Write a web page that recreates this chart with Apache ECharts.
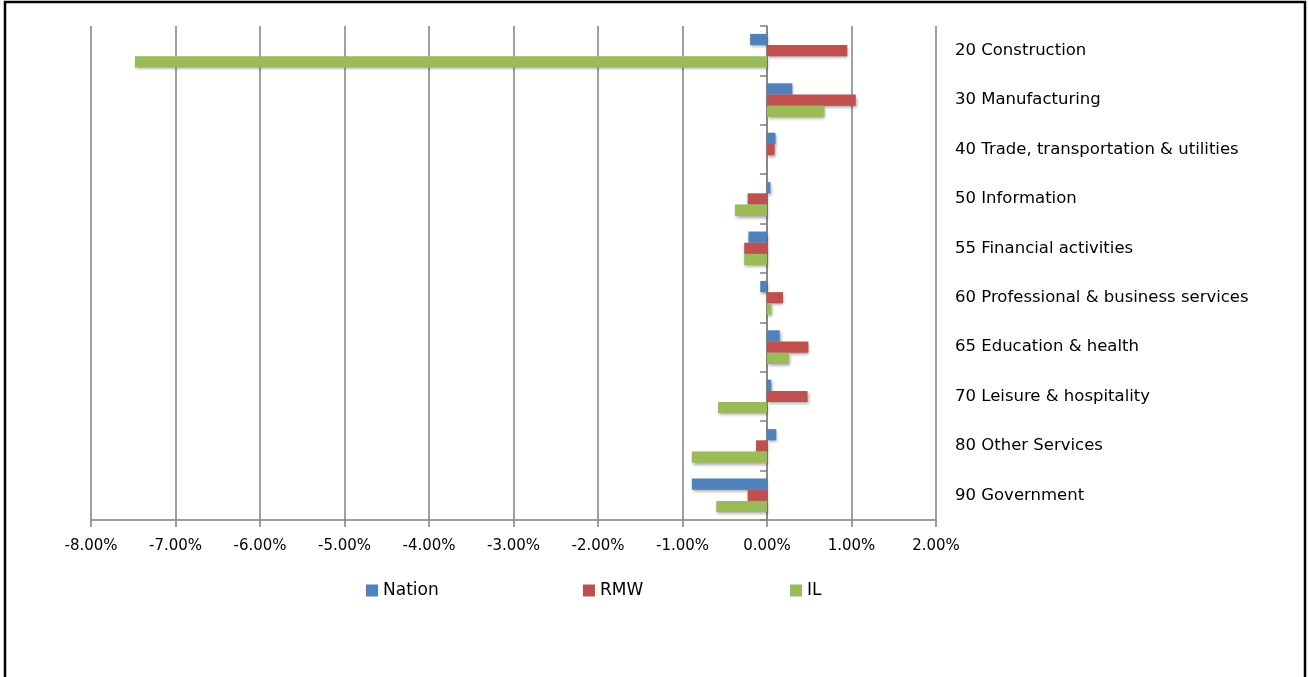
<!DOCTYPE html>
<html>
<head>
<meta charset="utf-8">
<script src="https://cdn.jsdelivr.net/npm/echarts@6/dist/echarts.min.js"></script>
<style>html,body{margin:0;padding:0;background:#fff;}#c{width:1309px;height:677px;}</style>
</head>
<body>
<div id="c"></div>
<script>
var categories = ['20 Construction','30 Manufacturing','40 Trade, transportation & utilities','50 Information','55 Financial activities','60 Professional & business services','65 Education & health','70 Leisure & hospitality','80 Other Services','90 Government'];
var nation = [-0.20, 0.30, 0.10, 0.04, -0.22, -0.08, 0.15, 0.05, 0.11, -0.89];
var rmw = [0.95, 1.05, 0.09, -0.23, -0.27, 0.19, 0.49, 0.48, -0.13, -0.23];
var il = [-7.48, 0.68, 0.00, -0.38, -0.27, 0.05, 0.26, -0.58, -0.89, -0.60];
var xTicks = {min: -8, max: 2, interval: 1};

var FONT = 'DejaVu Sans';
var chart = echarts.init(document.getElementById('c'));
var shadow = {shadowColor:'rgba(0,0,0,0.35)', shadowBlur:3, shadowOffsetX:1, shadowOffsetY:2};
function ser(name, data, color){
  return {name:name, type:'bar', data:data, barGap:'0%', barCategoryGap:'32%',
    itemStyle: Object.assign({color:color}, shadow)};
}
function leg(name, left){
  return {data:[name], left:left, top:582, padding:0, itemWidth:12, itemHeight:12,
    textStyle:{fontFamily:FONT,fontSize:17,color:'#000'}, icon:'rect'};
}
chart.setOption({
  animation:false,
  backgroundColor:'#fff',
  textStyle:{fontFamily:FONT},
  grid:{left:91, right:373, top:26, bottom:157, containLabel:false},
  legend:[leg('Nation',366), leg('RMW',583), leg('IL',790)],
  xAxis:{type:'value', min:xTicks.min, max:xTicks.max, interval:xTicks.interval,
    axisLine:{show:true, lineStyle:{color:'#808080', width:1.5}},
    axisTick:{show:true, length:7, lineStyle:{color:'#808080', width:1.5}},
    axisLabel:{color:'#000', fontSize:15, fontFamily:FONT, margin:19, formatter:function(v){return v.toFixed(2)+'%';}},
    splitLine:{show:true, lineStyle:{color:'#808080', width:1.5}}
  },
  yAxis:[
    {type:'category', data:categories, inverse:true,
      axisLine:{show:true, onZero:true, lineStyle:{color:'#808080', width:1.5}},
      axisTick:{show:true, length:7, lineStyle:{color:'#808080', width:1.5}},
      axisLabel:{show:false}},
    {type:'category', data:categories, inverse:true, position:'right',
      axisLine:{show:false, onZero:false}, axisTick:{show:false},
      axisLabel:{show:true, margin:19, color:'#000', fontSize:16.5, fontFamily:FONT, align:'left'}}
  ],
  series:[ser('Nation', nation, '#4F81BD'), ser('RMW', rmw, '#C0504D'), ser('IL', il, '#9BBB59')],
  graphic:[{type:'rect', shape:{x:5, y:2, width:1300, height:720}, style:{fill:'none', stroke:'#000', lineWidth:2.5}, silent:true}]
});
</script>
</body>
</html>
